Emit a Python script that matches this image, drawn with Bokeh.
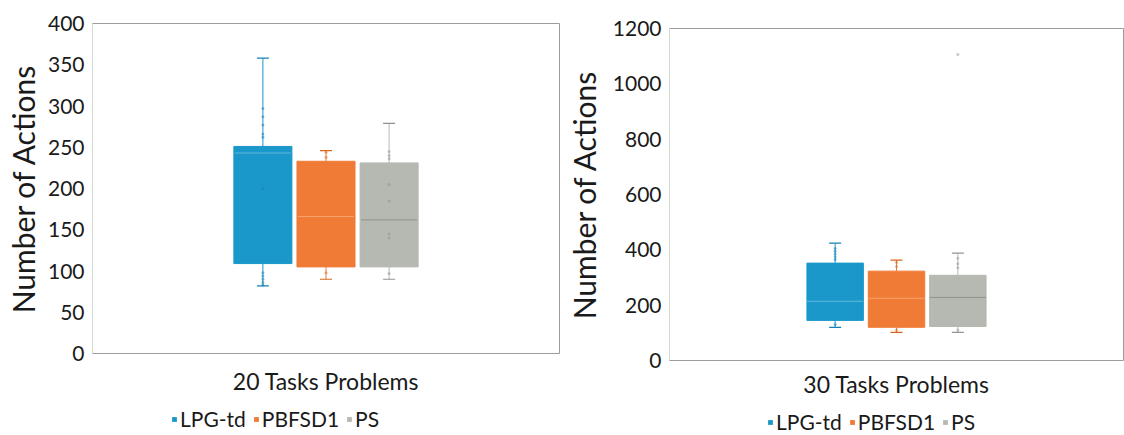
from bokeh.plotting import figure
from bokeh.models import (FactorRange, Range1d, SingleIntervalTicker, Title,
                          Legend, LegendItem)
from bokeh.layouts import row, column
from bokeh.embed import file_html
from bokeh.resources import INLINE

series = ["LPG-td", "PBFSD1", "PS"]
colors = ["#1a98c9", "#ef7b36", "#b5b9b1"]
dots = ["#1380b3", "#d9661f", "#8f958c"]
med_colors = ["#5fb8de", "#f5a46f", "#8e938b"]

# 20 tasks problems
lo_20 = [82, 90, 90]
q1_20 = [109, 105, 105]
med_20 = [243, 166, 162]
q3_20 = [251, 233, 231]
hi_20 = [358, 246, 279]
pts_20 = {
    "LPG-td": [297, 287, 277, 266, 262, 200, 98, 94, 90, 86, 83],
    "PBFSD1": [244, 238, 98],
    "PS": [245, 240, 236, 205, 185, 145, 140, 97],
}

# 30 tasks problems
lo_30 = [120, 102, 102]
q1_30 = [145, 120, 123]
med_30 = [214, 225, 228]
q3_30 = [352, 323, 308]
hi_30 = [424, 363, 388]
pts_30 = {
    "LPG-td": [405, 395, 385, 375, 365, 130],
    "PBFSD1": [355, 340, 110],
    "PS": [370, 350, 335, 1106, 110],
}

FONT = "Lato"
INK = "#1a1a1a"


def box_chart(label, lo, q1, med, q3, hi, pts, ymax, step, width, height,
              borders, lab_standoff, title_standoff):
    left, right, top, bottom = borders
    p = figure(width=width, height=height,
               x_range=FactorRange(*series, range_padding=2.2,
                                   range_padding_units="absolute"),
               y_range=Range1d(0, ymax), x_axis_location=None,
               output_backend="svg", toolbar_location=None,
               min_border_left=left, min_border_right=right,
               min_border_top=top, min_border_bottom=bottom)
    p.grid.visible = False
    p.outline_line_color = "#9c9c9c"
    p.background_fill_color = "white"
    p.border_fill_color = "white"

    ax = p.yaxis[0]
    ax.ticker = SingleIntervalTicker(interval=step)
    ax.major_tick_line_color = None
    ax.minor_tick_line_color = None
    ax.major_tick_out = 0
    ax.major_tick_in = 0
    ax.minor_tick_out = 0
    ax.axis_line_color = "#d6d8d4"
    ax.major_label_text_font = FONT
    ax.major_label_text_font_size = "21px"
    ax.major_label_text_color = INK
    ax.major_label_standoff = 8
    ax.axis_label = "Number of Actions"
    ax.axis_label_text_font = FONT
    ax.axis_label_text_font_size = "30px"
    ax.axis_label_text_font_style = "normal"
    ax.axis_label_text_color = INK
    ax.axis_label_standoff = lab_standoff

    # whiskers
    p.segment(x0=series, y0=q3, x1=series, y1=hi, line_color=colors, line_width=1)
    p.segment(x0=series, y0=lo, x1=series, y1=q1, line_color=colors, line_width=1)
    p.scatter(x=series, y=hi, marker="dash", size=12, line_color=dots, line_width=1.2)
    p.scatter(x=series, y=lo, marker="dash", size=12, line_color=dots, line_width=1.2)

    p.vbar(x=series, bottom=q1, top=q3, width=0.92,
           fill_color=colors, line_color=colors)
    p.scatter(x=series, y=med, marker="dash", size=56, line_color=med_colors,
              line_width=1)

    for s, c in zip(series, dots):
        vals = pts[s]
        p.scatter(x=[s] * len(vals), y=vals, size=3, fill_color=c,
                  line_color=None, alpha=0.5)

    t = Title(text=label, align="center", text_font=FONT,
              text_font_size="23px", text_font_style="normal",
              text_color=INK, standoff=title_standoff)
    p.add_layout(t, "below")
    return p


def legend_strip(width, height, at):
    l = figure(width=width, height=height, x_range=Range1d(0, 1),
               y_range=Range1d(0, 1), output_backend="svg",
               toolbar_location=None, min_border=0,
               x_axis_location=None, y_axis_location=None)
    l.grid.visible = False
    l.outline_line_color = None
    # bars kept outside the visible range; they only feed the legend
    keys = l.vbar(x=[-5] * len(series), top=[-5] * len(series), bottom=-6,
                  width=0.5, fill_color=colors, line_color=None)
    items = [LegendItem(label=s, renderers=[keys], index=i)
             for i, s in enumerate(series)]
    leg = Legend(items=items, orientation="horizontal", location=at,
                 label_text_font=FONT, label_text_font_size="21px",
                 label_text_color=INK, glyph_width=6, glyph_height=6,
                 label_height=18, label_standoff=3, spacing=7, padding=0,
                 margin=0, border_line_color=None, background_fill_alpha=0)
    l.add_layout(leg)
    return l


p1 = box_chart("20 Tasks Problems", lo_20, q1_20, med_20, q3_20, hi_20, pts_20,
               400, 50, 562, 405, (92, 3, 23, 50), 4, 22)
p2 = box_chart("30 Tasks Problems", lo_30, q1_30, med_30, q3_30, hi_30, pts_30,
               1200, 200, 562, 405, (107, 1, 28, 45), 8, 15)
l1 = legend_strip(562, 30, (79, 4))
l2 = legend_strip(562, 30, (98, 1))

p = row(column(p1, l1), column(p2, l2))
open("out.html", "w").write(file_html(p, INLINE))
